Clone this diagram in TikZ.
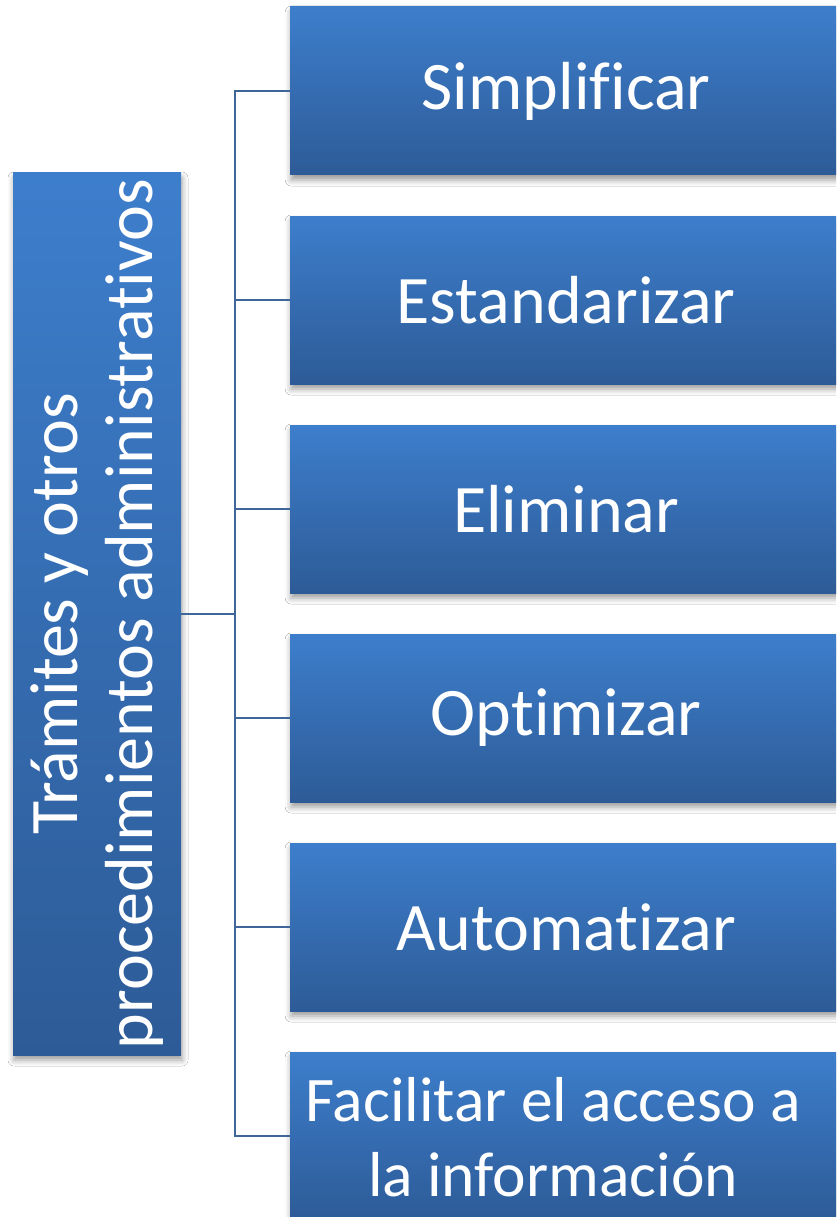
\documentclass[tikz,border=0pt]{standalone}
\usepackage{fontspec}
\setmainfont[Ligatures={NoCommon}]{Carlito}
\usetikzlibrary{shadows.blur}
\definecolor{boxtop}{HTML}{3D7ECC}
\definecolor{boxbot}{HTML}{2D5B97}
\definecolor{conncol}{HTML}{3F6698}
\tikzset{
  bluebox/.style={rectangle, top color=boxtop, bottom color=boxbot, draw=none,
    text=white, font=\fontsize{68}{75}\selectfont, align=center, inner sep=0pt,
    blur shadow={shadow xshift=1pt, shadow yshift=-5pt, shadow blur radius=6pt, shadow opacity=40}},
  childbox/.style={bluebox, minimum width=552pt, minimum height=168pt, anchor=west},
  whitetext/.style={text=white, align=center, inner sep=0pt},
  conn/.style={draw=conncol, line width=2pt},
}
\begin{document}
\begin{tikzpicture}[x=1pt,y=-1pt]
\useasboundingbox (0,0) rectangle (836,1217);
\clip (0,0) rectangle (836,1217);
\fill[white] (0,0) rectangle (836,1217);
\node[bluebox, minimum width=168pt, minimum height=882pt, anchor=center] (L) at (97,614) {};
\node[whitetext, font=\fontsize{68}{75}\selectfont, rotate=90] (Lt) at (L.center) {Trámites y otros\\procedimientos administrativos};
\node[childbox] (c1) at (290,91) {Simplificar};
\node[childbox] (c2) at (290,300) {Estandarizar};
\node[childbox] (c3) at (290,509) {Eliminar};
\node[childbox] (c4) at (290,718) {Optimizar};
\node[childbox] (c5) at (290,927) {Automatizar};
\node[childbox] (c6) at (290,1136) {};
\node[whitetext, font=\fontsize{63.5}{75}\selectfont] (c6t) at (553,1137) {Facilitar el acceso a\\la información};
\foreach \c in {c1,c2,c3,c4,c5,c6}{
  \draw[conn] (L.east) -- ++(54,0) |- (\c.west);
}
\end{tikzpicture}
\end{document}
